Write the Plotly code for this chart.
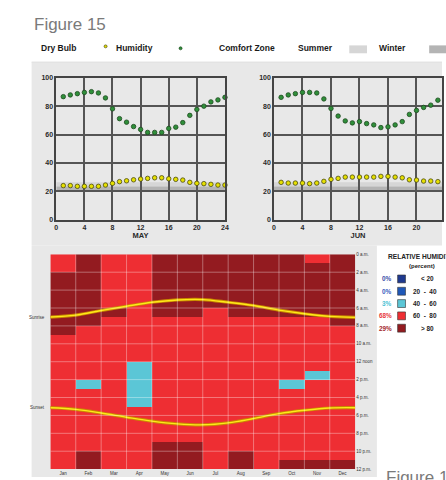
import plotly.graph_objects as go

W, H = 446, 480
FONT = "Liberation Sans, Arial, sans-serif"

# ---------------- data ----------------
hours = list(range(1, 25))
may_drybulb = [24.1, 24.1, 23.6, 23.6, 23.6, 23.6, 24.5, 25.7, 26.9, 27.5, 28.2, 28.7,
               29.2, 29.6, 29.6, 28.9, 28.5, 28.0, 26.4, 25.7, 25.5, 25.0, 24.5, 24.5]
may_humidity = [86.8, 88.0, 88.9, 89.8, 90.3, 89.4, 85.9, 78.2, 71.3, 68.8, 65.7, 63.7,
                61.6, 61.6, 61.6, 64.4, 65.3, 68.5, 73.6, 77.8, 80.1, 83.1, 84.5, 86.3]
jun_drybulb = [26.4, 25.9, 25.9, 25.9, 25.5, 25.9, 27.1, 28.5, 29.2, 30.1, 30.1, 30.1,
               30.1, 30.1, 30.6, 30.6, 30.1, 29.6, 28.2, 28.0, 27.3, 27.3, 26.9, 26.5]
jun_humidity = [86.3, 88.0, 88.9, 89.8, 89.8, 89.4, 85.2, 78.5, 73.1, 69.7, 68.3, 69.2,
                67.8, 66.9, 65.0, 65.5, 66.9, 69.2, 74.3, 77.1, 79.2, 80.8, 84.3, 86.0]
summer_zone = [23.5, 26.5]
winter_zone = [20.0, 23.5]

months = ["Jan", "Feb", "Mar", "Apr", "May", "Jun", "Jul", "Aug", "Sep", "Oct", "Nov", "Dec"]
hour_labels = ["0 a.m.", "2 a.m.", "4 a.m.", "6 a.m.", "8 a.m.", "10 a.m.", "12 noon",
               "2 p.m.", "4 p.m.", "6 p.m.", "8 p.m.", "10 p.m.", "12 p.m."]
# RH class per hour (rows 0..23) and month: 0 <20, 1 20-40, 2 40-60, 3 60-80, 4 >80
rh_class = [
    [3, 4, 3, 3, 4, 4, 4, 4, 4, 4, 3, 4],
    [3, 4, 3, 3, 4, 4, 4, 4, 4, 4, 4, 4],
    [4, 4, 3, 3, 4, 4, 4, 4, 4, 4, 4, 4],
    [4, 4, 3, 3, 4, 4, 4, 4, 4, 4, 4, 4],
    [4, 4, 3, 3, 4, 4, 4, 4, 4, 4, 4, 4],
    [4, 4, 3, 3, 4, 4, 4, 4, 4, 4, 4, 4],
    [4, 4, 4, 3, 4, 4, 3, 4, 4, 4, 4, 4],
    [4, 4, 3, 3, 3, 3, 3, 3, 3, 3, 3, 4],
    [4, 3, 3, 3, 3, 3, 3, 3, 3, 3, 3, 3],
    [3, 3, 3, 3, 3, 3, 3, 3, 3, 3, 3, 3],
    [3, 3, 3, 3, 3, 3, 3, 3, 3, 3, 3, 3],
    [3, 3, 3, 3, 3, 3, 3, 3, 3, 3, 3, 3],
    [3, 3, 3, 2, 3, 3, 3, 3, 3, 3, 3, 3],
    [3, 3, 3, 2, 3, 3, 3, 3, 3, 3, 2, 3],
    [3, 2, 3, 2, 3, 3, 3, 3, 3, 2, 3, 3],
    [3, 3, 3, 2, 3, 3, 3, 3, 3, 3, 3, 3],
    [3, 3, 3, 2, 3, 3, 3, 3, 3, 3, 3, 3],
    [3, 3, 3, 3, 3, 3, 3, 3, 3, 3, 3, 3],
    [3, 3, 3, 3, 3, 3, 3, 3, 3, 3, 3, 3],
    [3, 3, 3, 3, 3, 3, 3, 3, 3, 3, 3, 3],
    [3, 3, 3, 3, 3, 3, 3, 3, 3, 3, 3, 3],
    [3, 3, 3, 3, 4, 4, 3, 3, 3, 3, 3, 3],
    [3, 4, 3, 3, 4, 4, 3, 4, 3, 3, 3, 3],
    [3, 4, 3, 3, 4, 4, 3, 4, 3, 4, 4, 4],
]
# sunrise / sunset hour at month boundaries (start of Jan ... end of Dec)
sunrise = [7.01, 6.79, 6.28, 5.80, 5.36, 5.10, 5.06, 5.36, 5.72, 6.24, 6.64, 6.94, 7.05]
sunset = [17.14, 17.32, 17.73, 18.20, 18.64, 18.94, 19.05, 18.83, 18.35, 17.80, 17.43, 17.17, 17.14]
rh_labels = ["< 20", "20  -  40", "40  -  60", "60  -  80", "> 80"]
rh_colors = ["#1f3a8f", "#1f58b8", "#5bc6d6", "#ee2e33", "#931b20"]
pct_colors = ["#3b4ea8", "#3b5cc0", "#4cc2d4", "#e8383d", "#a3262b"]

# ---------------- helpers ----------------
def px(x):
    return x / W

def py(y):
    return 1 - y / H

fig = go.Figure()

# line charts
DB_MARK = dict(color="#e6e000", size=4.5, line=dict(color="#4a4a10", width=0.8))
HU_MARK = dict(color="#2f8f3a", size=4.5, line=dict(color="#1e4a20", width=0.8))
for xa, ya, db, hu in [("x", "y", may_drybulb, may_humidity), ("x2", "y2", jun_drybulb, jun_humidity)]:
    fig.add_trace(go.Scatter(x=hours, y=hu, mode="markers", marker=HU_MARK, xaxis=xa, yaxis=ya,
                             showlegend=False, cliponaxis=False))
    fig.add_trace(go.Scatter(x=hours, y=db, mode="markers", marker=DB_MARK, xaxis=xa, yaxis=ya,
                             showlegend=False, cliponaxis=False))

# heatmap
colorscale = []
for i, c in enumerate(rh_colors):
    colorscale.append([i / 5, c])
    colorscale.append([(i + 1) / 5, c])
fig.add_trace(go.Heatmap(
    z=rh_class, x=[i + 0.5 for i in range(12)], y=[h + 0.5 for h in range(24)],
    colorscale=colorscale, zmin=-0.5, zmax=4.5, showscale=False,
    xaxis="x3", yaxis="y3", hoverinfo="skip"))

mx = list(range(13))
for vals in (sunrise, sunset):
    fig.add_trace(go.Scatter(x=mx, y=vals, mode="lines", line=dict(color="#c98a00", width=3.2, shape="spline"),
                             xaxis="x3", yaxis="y3", showlegend=False, hoverinfo="skip"))
    fig.add_trace(go.Scatter(x=mx, y=vals, mode="lines", line=dict(color="#ffe81a", width=1.4, shape="spline"),
                             xaxis="x3", yaxis="y3", showlegend=False, hoverinfo="skip"))

shapes = []
# gray panels
shapes.append(dict(type="rect", xref="paper", yref="paper", x0=px(30), x1=1, y0=py(245), y1=py(59),
                   fillcolor="#e8e8e8", line=dict(width=0), layer="below"))
shapes.append(dict(type="rect", xref="paper", yref="paper", x0=px(30), x1=px(380), y0=0, y1=py(245),
                   fillcolor="#e8e8e8", line=dict(width=0), layer="below"))
# comfort zones
for xr, yr in [("x", "y"), ("x2", "y2")]:
    shapes.append(dict(type="rect", xref=xr, yref=yr, x0=0, x1=24, y0=summer_zone[0], y1=summer_zone[1],
                       fillcolor="#d6d6d6", line=dict(width=0), layer="below"))
    shapes.append(dict(type="rect", xref=xr, yref=yr, x0=0, x1=24, y0=winter_zone[0], y1=winter_zone[1],
                       fillcolor="#b4b4b4", line=dict(width=0), layer="below"))
# heatmap grid
for m in range(1, 12):
    shapes.append(dict(type="line", xref="x3", yref="y3", x0=m, x1=m, y0=0, y1=24,
                       line=dict(color="rgba(255,255,255,0.35)", width=1), layer="above"))
for h in range(2, 24, 2):
    shapes.append(dict(type="line", xref="x3", yref="y3", x0=0, x1=12, y0=h, y1=h,
                       line=dict(color="rgba(255,255,255,0.35)", width=1), layer="above"))

ann = []
ann.append(dict(text="Figure 15", x=px(30), y=py(21), xref="paper", yref="paper", xanchor="left",
                yanchor="middle", showarrow=False, font=dict(family=FONT, size=17, color="#7a7a7a")))
ann.append(dict(text="Figure 16", x=px(387), y=py(480), xref="paper", yref="paper", xanchor="left",
                yanchor="middle", showarrow=False, font=dict(family=FONT, size=17, color="#7a7a7a")))
top_items = [("Dry Bulb", 38), ("Humidity", 114), ("Comfort Zone", 218), ("Summer", 298), ("Winter", 380)]
for t, x in top_items:
    ann.append(dict(text="<b>" + t + "</b>", x=px(x), y=py(45), xref="paper", yref="paper", xanchor="left",
                    yanchor="middle", showarrow=False, font=dict(family=FONT, size=8.5, color="#1a1a1a")))
# top legend marker swatches
shapes.append(dict(type="circle", xref="paper", yref="paper", x0=px(103.5), x1=px(106.5), y0=py(44.5), y1=py(41.5),
                   fillcolor="#e6e000", line=dict(color="#4a4a10", width=0.7)))
shapes.append(dict(type="circle", xref="paper", yref="paper", x0=px(179.5), x1=px(182.5), y0=py(46.5), y1=py(43.5),
                   fillcolor="#2f8f3a", line=dict(color="#1e4a20", width=0.7)))
shapes.append(dict(type="rect", xref="paper", yref="paper", x0=px(352), x1=px(370), y0=py(50), y1=py(42),
                   fillcolor="#d6d6d6", line=dict(width=0)))
shapes.append(dict(type="rect", xref="paper", yref="paper", x0=px(433), x1=px(452), y0=py(50), y1=py(42),
                   fillcolor="#b4b4b4", line=dict(width=0)))
shapes.append(dict(type="line", xref="paper", yref="paper", x0=px(30), x1=1, y0=py(59), y1=py(59),
                   line=dict(color="#dcdcdc", width=1)))

# sunrise / sunset labels
ann.append(dict(text="Sunrise", x=px(46), y=sunrise[0], xref="paper", yref="y3", xanchor="right",
                yanchor="middle", showarrow=False, font=dict(family=FONT, size=4.5, color="#333")))
ann.append(dict(text="Sunset", x=px(46), y=sunset[0], xref="paper", yref="y3", xanchor="right",
                yanchor="middle", showarrow=False, font=dict(family=FONT, size=4.5, color="#333")))

# RH legend
total = sum(len(r) for r in rh_class)
counts = [sum(r.count(k) for r in rh_class) for k in range(5)]
ann.append(dict(text="<b>RELATIVE HUMIDITY</b>", x=px(389), y=py(256), xref="paper", yref="paper",
                xanchor="left", yanchor="middle", showarrow=False, font=dict(family=FONT, size=6.6, color="#222")))
ann.append(dict(text="<b>(percent)</b>", x=px(426), y=py(266), xref="paper", yref="paper",
                xanchor="center", yanchor="middle", showarrow=False, font=dict(family=FONT, size=6, color="#222")))
row_y = [279, 291.5, 304, 316.5, 329]
for k in range(5):
    yy = row_y[k]
    pct = round(100 * counts[k] / total)
    ann.append(dict(text="<b>%d%%</b>" % pct, x=px(397), y=py(yy), xref="paper", yref="paper",
                    xanchor="right", yanchor="middle", showarrow=False,
                    font=dict(family=FONT, size=6.4, color=pct_colors[k])))
    shapes.append(dict(type="rect", xref="paper", yref="paper", x0=px(401), x1=px(409), y0=py(yy + 4), y1=py(yy - 4),
                       fillcolor=rh_colors[k], line=dict(color="#333", width=0.6)))
    if k in (0, 4):
        ann.append(dict(text="<b>" + rh_labels[k] + "</b>", x=px(423), y=py(yy), xref="paper", yref="paper",
                        xanchor="left", yanchor="middle", showarrow=False, font=dict(family=FONT, size=6.4, color="#222")))
    else:
        ann.append(dict(text="<b>" + rh_labels[k] + "</b>", x=px(415), y=py(yy), xref="paper", yref="paper",
                        xanchor="left", yanchor="middle", showarrow=False, font=dict(family=FONT, size=6.4, color="#222")))

tickfont = dict(family=FONT, size=7, color="#2a2a2a", weight="bold")
line_ax = dict(showline=True, mirror=True, linecolor="#444", linewidth=1.5, showgrid=True,
               gridcolor="#555", gridwidth=1.5, zeroline=False, ticks="", tickfont=tickfont)
dom_y = [py(219), py(75)]

fig.update_layout(
    width=W, height=H, margin=dict(l=0, r=0, t=0, b=0, pad=0),
    paper_bgcolor="white", plot_bgcolor="white", showlegend=False,
    xaxis=dict(domain=[px(55), px(226)], range=[0, 24], tickvals=[0, 4, 8, 12, 16, 20, 24], anchor="y",
               title=dict(text="<b>MAY</b>", font=dict(family=FONT, size=7.5, color="#2a2a2a"), standoff=3),
               **line_ax),
    yaxis=dict(domain=dom_y, range=[0, 100], tickvals=[0, 20, 40, 60, 80, 100], anchor="x", **line_ax),
    xaxis2=dict(domain=[px(275.7), 1], range=[0, 23.58], tickvals=[0, 4, 8, 12, 16, 20], anchor="y2",
                title=dict(text="<b>JUN</b>", font=dict(family=FONT, size=7.5, color="#2a2a2a"), standoff=3),
                **line_ax),
    yaxis2=dict(domain=dom_y, range=[0, 100], tickvals=[0, 20, 40, 60, 80, 100], anchor="x2", **line_ax),
    xaxis3=dict(domain=[px(49), px(358)], range=[0, 12], tickvals=[i + 0.5 for i in range(12)], ticktext=months,
                anchor="y3", showgrid=False, zeroline=False, showline=False, ticks="",
                tickfont=dict(family=FONT, size=4.5, color="#333")),
    yaxis3=dict(domain=[py(472), py(254)], range=[24, 0], tickvals=list(range(0, 25, 2)), ticktext=hour_labels,
                anchor="x3", side="right", showgrid=False, zeroline=False, showline=False, ticks="",
                tickfont=dict(family=FONT, size=4.5, color="#333")),
    shapes=shapes, annotations=ann,
)

fig.write_html("out.html")
